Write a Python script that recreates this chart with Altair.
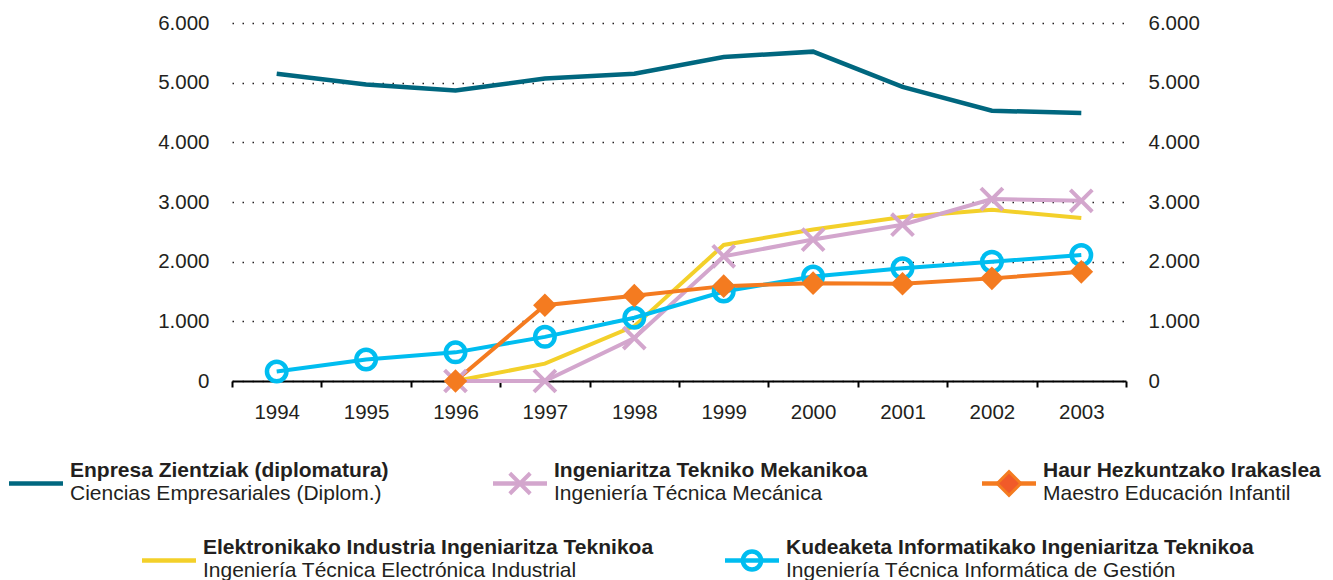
import altair as alt
import pandas as pd

# ---------------- data ----------------
years = [1994, 1995, 1996, 1997, 1998, 1999, 2000, 2001, 2002, 2003]

enpresa = [5150, 4970, 4870, 5070, 5150, 5430, 5520, 4930, 4530, 4490]
elektronika = [None, None, 0, 290, 920, 2280, 2540, 2750, 2870, 2730]
mekanikoa = [None, None, 0, 0, 720, 2090, 2370, 2620, 3050, 3020]
kudeaketa = [160, 360, 480, 740, 1060, 1500, 1750, 1890, 2000, 2110]
haur = [None, None, 0, 1270, 1430, 1590, 1640, 1630, 1720, 1830]

series_keys = ["enpresa", "elektronika", "mekanikoa", "kudeaketa", "haur"]
series_values = [enpresa, elektronika, mekanikoa, kudeaketa, haur]

bold_labels = {
    "enpresa": "Enpresa Zientziak (diplomatura)",
    "mekanikoa": "Ingeniaritza Tekniko Mekanikoa",
    "haur": "Haur Hezkuntzako Irakaslea",
    "elektronika": "Elektronikako Industria Ingeniaritza Teknikoa",
    "kudeaketa": "Kudeaketa Informatikako Ingeniaritza Teknikoa",
}
sub_labels = {
    "enpresa": "Ciencias Empresariales (Diplom.)",
    "mekanikoa": "Ingeniería Técnica Mecánica",
    "haur": "Maestro Educación Infantil",
    "elektronika": "Ingeniería Técnica Electrónica Industrial",
    "kudeaketa": "Ingeniería Técnica Informática de Gestión",
}
y_ticks = [0, 1000, 2000, 3000, 4000, 5000, 6000]

# ---------------- styles ----------------
FONT = "Liberation Sans"
TXT = "#231f20"
colors = {
    "enpresa": "#00677f",
    "elektronika": "#f3d02a",
    "mekanikoa": "#d3a6cd",
    "kudeaketa": "#00bdf0",
    "haur": "#f47b20",
}
XPATH = "M-1,-1L1,1M-1,1L1,-1"

# legend layout (page pixels): symbol start x, bold-line baseline y
legend_order = ["enpresa", "mekanikoa", "haur", "elektronika", "kudeaketa"]
legend_layout = {
    "enpresa": (9, 477),
    "mekanikoa": (493, 477),
    "haur": (982, 477),
    "elektronika": (142, 554),
    "kudeaketa": (725, 554),
}
BAR_LEN, TEXT_GAP, BAR_DY, SUB_DY = 54, 7, 6.5, 22.5

PLOT_W, PLOT_H = 894, 358
PAD_L, PAD_T = 224, 15
PAGE_W, PAGE_H = 1333, 580

# ---------------- tables ----------------
rows = []
for key, vals in zip(series_keys, series_values):
    for yr, v in zip(years, vals):
        if v is not None:
            rows.append({"series": key, "year": yr, "value": v})
df = pd.DataFrame(rows)

lrows = []
for key in legend_order:
    x0, yb = legend_layout[key]
    lrows.append({
        "series": key,
        "bold": bold_labels[key],
        "sub": sub_labels[key],
        "x0": x0, "x1": x0 + BAR_LEN, "xc": x0 + BAR_LEN / 2, "xt": x0 + BAR_LEN + TEXT_GAP,
        "ybar": yb + BAR_DY, "ybold": yb, "ysub": yb + SUB_DY,
    })
ldf = pd.DataFrame(lrows)

# ---------------- encodings ----------------
label_expr = "replace(format(datum.value, ','), ',', '.')"

x_axis = alt.Axis(
    title=None, tickBand="extent", labelAngle=0, grid=False,
    domainColor="#000000", domainWidth=2, tickColor="#000000", tickWidth=2, tickSize=6,
    labelFont=FONT, labelFontSize=20.5, labelColor=TXT, labelPadding=15,
)
yl_axis = alt.Axis(
    title=None, orient="left", values=y_ticks, labelExpr=label_expr,
    domain=False, ticks=False, tickSize=0, labelPadding=23,
    grid=True, gridColor="#231f20", gridDash=[1.5, 8.5], gridWidth=1.3,
    labelFont=FONT, labelFontSize=20.5, labelColor=TXT,
)
yr_axis = alt.Axis(
    title=None, orient="right", values=y_ticks, labelExpr=label_expr,
    domain=False, ticks=False, tickSize=0, labelPadding=22, grid=False,
    labelFont=FONT, labelFontSize=20.5, labelColor=TXT,
)


def X(axis=None):
    return alt.X("year:O", bandPosition=0.5,
                 scale=alt.Scale(type="band", domain=years, paddingInner=0, paddingOuter=0),
                 axis=axis)


def Y(axis=None):
    return alt.Y("value:Q", scale=alt.Scale(domain=[0, 6000], nice=False, zero=True), axis=axis)


def LX(field):
    return alt.X(f"{field}:Q", axis=None,
                 scale=alt.Scale(domain=[0, PAGE_W], range=[-(PAD_L + 8), PAGE_W - (PAD_L + 8)],
                                 nice=False, zero=False))


def LY(field):
    return alt.Y(f"{field}:Q", axis=None,
                 scale=alt.Scale(domain=[0, PAGE_H], range=[-(PAD_T + 8), PAGE_H - (PAD_T + 8)],
                                 nice=False, zero=False))


base = alt.Chart(df)
layers = []

# lines
axes_for = {"enpresa": (x_axis, yl_axis), "elektronika": (None, yr_axis)}
for key in series_keys:
    xa, ya = axes_for.get(key, (None, None))
    layers.append(
        base.transform_filter(alt.datum.series == key)
        .mark_line(color=colors[key], strokeWidth=4.5 if key == "enpresa" else 4)
        .encode(x=X(xa), y=Y(ya))
    )

# markers
layers.append(
    base.transform_filter(alt.datum.series == "mekanikoa")
    .mark_point(shape=XPATH, filled=False, strokeWidth=4, size=480, color=colors["mekanikoa"], opacity=1)
    .encode(x=X(), y=Y())
)
layers.append(
    base.transform_filter(alt.datum.series == "kudeaketa")
    .mark_point(shape="circle", filled=False, strokeWidth=4.5, size=380, color=colors["kudeaketa"], opacity=1)
    .encode(x=X(), y=Y())
)
layers.append(
    base.transform_filter(alt.datum.series == "haur")
    .mark_point(shape="diamond", filled=True, size=560, color=colors["haur"], opacity=1)
    .encode(x=X(), y=Y())
)

# legend
lbase = alt.Chart(ldf)
color_enc = alt.Color("series:N", legend=None,
                      scale=alt.Scale(domain=series_keys, range=[colors[k] for k in series_keys]))
layers.append(
    lbase.mark_rule(strokeWidth=4.5).encode(x=LX("x0"), x2=alt.X2("x1"), y=LY("ybar"), color=color_enc)
)
layers.append(
    lbase.transform_filter(alt.datum.series == "mekanikoa")
    .mark_point(shape=XPATH, filled=False, strokeWidth=4, size=420, color=colors["mekanikoa"], opacity=1)
    .encode(x=LX("xc"), y=LY("ybar"))
)
layers.append(
    lbase.transform_filter(alt.datum.series == "haur")
    .mark_point(shape="diamond", filled=True, size=560, color="#f15a29", stroke=colors["haur"],
                strokeWidth=3, opacity=1)
    .encode(x=LX("xc"), y=LY("ybar"))
)
layers.append(
    lbase.transform_filter(alt.datum.series == "kudeaketa")
    .mark_point(shape="circle", filled=False, strokeWidth=4.5, size=330, color=colors["kudeaketa"], opacity=1)
    .encode(x=LX("xc"), y=LY("ybar"))
)
layers.append(
    lbase.mark_text(align="left", baseline="alphabetic", font=FONT, fontSize=21, fontWeight="bold", color=TXT)
    .encode(x=LX("xt"), y=LY("ybold"), text="bold:N")
)
layers.append(
    lbase.mark_text(align="left", baseline="alphabetic", font=FONT, fontSize=21, color=TXT)
    .encode(x=LX("xt"), y=LY("ysub"), text="sub:N")
)

chart = (
    alt.layer(*layers)
    .resolve_scale(x="independent", y="independent")
    .properties(
        width=PLOT_W, height=PLOT_H,
        autosize=alt.AutoSizeParams(type="none"),
        padding={"left": PAD_L, "top": PAD_T, "right": PAGE_W - 16 - PAD_L - PLOT_W,
                 "bottom": PAGE_H - 8 - PAD_T - PLOT_H},
        background="white",
    )
    .configure_view(stroke=None)
)

chart.save("out.html", embed_options={"renderer": "svg", "actions": False})
